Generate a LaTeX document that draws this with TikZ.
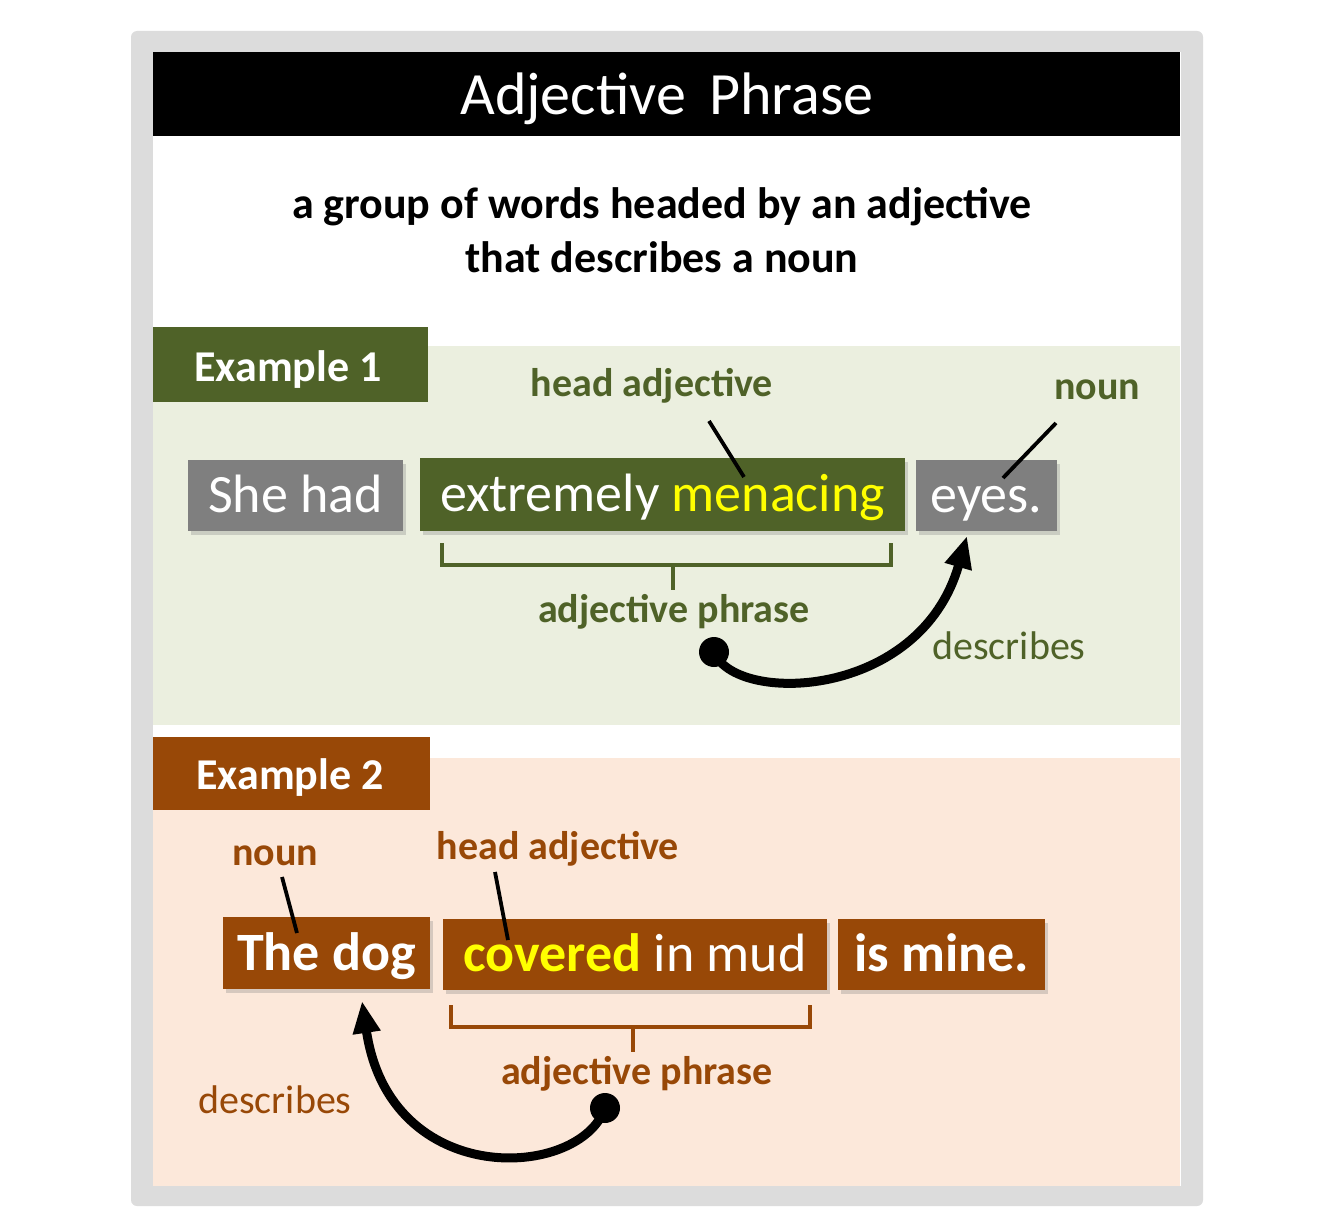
\documentclass[tikz,border=0pt]{standalone}
\usepackage{fontspec}
\setmainfont{Carlito}
\usetikzlibrary{shadows,arrows.meta}
\definecolor{frameg}{HTML}{DCDCDC}
\definecolor{olive}{HTML}{4F6228}
\definecolor{lgreen}{HTML}{EBEFDF}
\definecolor{boxgray}{HTML}{7F7F7F}
\definecolor{brownc}{HTML}{984807}
\definecolor{peach}{HTML}{FCE8DA}
\definecolor{yel}{HTML}{FFFF00}
\tikzset{
  fs/.style={font=\fontsize{#1}{#1}\selectfont},
  bfs/.style={font=\bfseries\fontsize{#1}{#1}\selectfont},
  wordbox/.style={draw=none, inner sep=0pt, text=white, text height=34.5pt, text depth=0pt,
     drop shadow={shadow xshift=3pt, shadow yshift=-4pt, opacity=0.3}},
  lab/.style={anchor=base, inner sep=0pt},
  pointer/.style={line width=3.8pt, black},
  brace/.style={line width=3.8pt},
  bigarrow/.style={line width=9pt, -{Triangle[length=32pt,width=26pt]}},
}
\begin{document}
\begin{tikzpicture}[x=1pt,y=-1pt]
\useasboundingbox (0,0) rectangle (1334,1231);
\fill[white] (0,0) rectangle (1334,1231);
% frame
\fill[frameg, rounded corners=6pt] (131,31) rectangle (1203,1206);
\fill[white] (153,52) rectangle (1181,1186);
% title
\fill[black] (153,52) rectangle (1180,136);
\node[lab, text=white, fs=60] (title) at (667,114) {Adjective\, Phrase};
\node[lab, bfs=44] (sub1) at (662,218) {a group of words headed by an adjective};
\node[lab, bfs=44] (sub2) at (662,272) {that describes a noun};

% ===== Example 1 =====
\fill[lgreen] (153,346) rectangle (1180,725);
\fill[olive] (153,327) rectangle (428,402);
\node[lab, text=white, bfs=44] (ex1) at (288,381) {Example 1};
\node[lab, text=olive, bfs=40] (ha1) at (652,396) {head adjective};
\node[lab, text=olive, bfs=40] (n1) at (1097,399) {noun};

\node[wordbox, fill=boxgray, minimum width=215pt, minimum height=71pt, fs=54] (she) at (295.5,495.5) {She had};
\node[wordbox, fill=olive, minimum width=485pt, minimum height=73pt, fs=54] (adjp1) at (662.5,494.5) {extremely \textcolor{yel}{menacing}};
\node[wordbox, fill=boxgray, minimum width=141pt, minimum height=71pt, fs=54] (eyes) at (986.5,495.5) {eyes.};

\coordinate (ha1a) at (709,421); \coordinate (ha1b) at (744,477);
\coordinate (n1a) at (1056,423); \coordinate (n1b) at (1003,478);
\draw[pointer] (ha1a) -- (ha1b);
\draw[pointer] (n1a) -- (n1b);

\coordinate (b1l) at (442,543); \coordinate (b1r) at (891,543);
\coordinate (b1m) at (673,565); \coordinate (b1t) at (673,590);
\draw[brace, olive] (b1l) |- (b1m) -| (b1r);
\draw[brace, olive] (b1m) -- (b1t);
\node[lab, text=olive, bfs=40] (ap1) at (674,622) {adjective phrase};
\node[lab, text=olive, fs=40] (d1) at (1009,659) {describes};

\coordinate (dot1) at (714,652);
\coordinate (tip1) at (967,536);
\fill[black] (dot1) circle (15pt);
\draw[bigarrow] (dot1) .. controls (735,705) and (920,700) .. (tip1);

% ===== Example 2 =====
\fill[peach] (153,758) rectangle (1180,1186);
\fill[brownc] (153,737) rectangle (430,810);
\node[lab, text=white, bfs=44] (ex2) at (290,789) {Example 2};
\node[lab, text=brownc, bfs=40] (n2) at (275,865) {noun};
\node[lab, text=brownc, bfs=40] (ha2) at (558,859) {head adjective};

\node[wordbox, fill=brownc, minimum width=207pt, minimum height=72pt, bfs=54] (dog) at (326.5,953) {The dog};
\node[wordbox, fill=brownc, minimum width=384pt, minimum height=71pt, fs=54] (adjp2) at (635,954.5) {\textbf{\textcolor{yel}{covered}} in mud};
\node[wordbox, fill=brownc, minimum width=207pt, minimum height=71pt, bfs=54] (mine) at (941.5,954.5) {is mine.};

\coordinate (n2a) at (282,877); \coordinate (n2b) at (297,933);
\coordinate (ha2a) at (495,872); \coordinate (ha2b) at (508,940);
\draw[pointer] (n2a) -- (n2b);
\draw[pointer] (ha2a) -- (ha2b);

\coordinate (b2l) at (451,1005); \coordinate (b2r) at (810,1005);
\coordinate (b2m) at (633,1027); \coordinate (b2t) at (633,1052);
\draw[brace, brownc] (b2l) |- (b2m) -| (b2r);
\draw[brace, brownc] (b2m) -- (b2t);
\node[lab, text=brownc, bfs=40] (ap2) at (637,1084) {adjective phrase};
\node[lab, text=brownc, fs=40] (d2) at (275,1113) {describes};

\coordinate (dot2) at (605,1108);
\coordinate (tip2) at (362,1001);
\fill[black] (dot2) circle (15pt);
\draw[bigarrow] (dot2) .. controls (580,1180) and (390,1190) .. (tip2);
\end{tikzpicture}
\end{document}
